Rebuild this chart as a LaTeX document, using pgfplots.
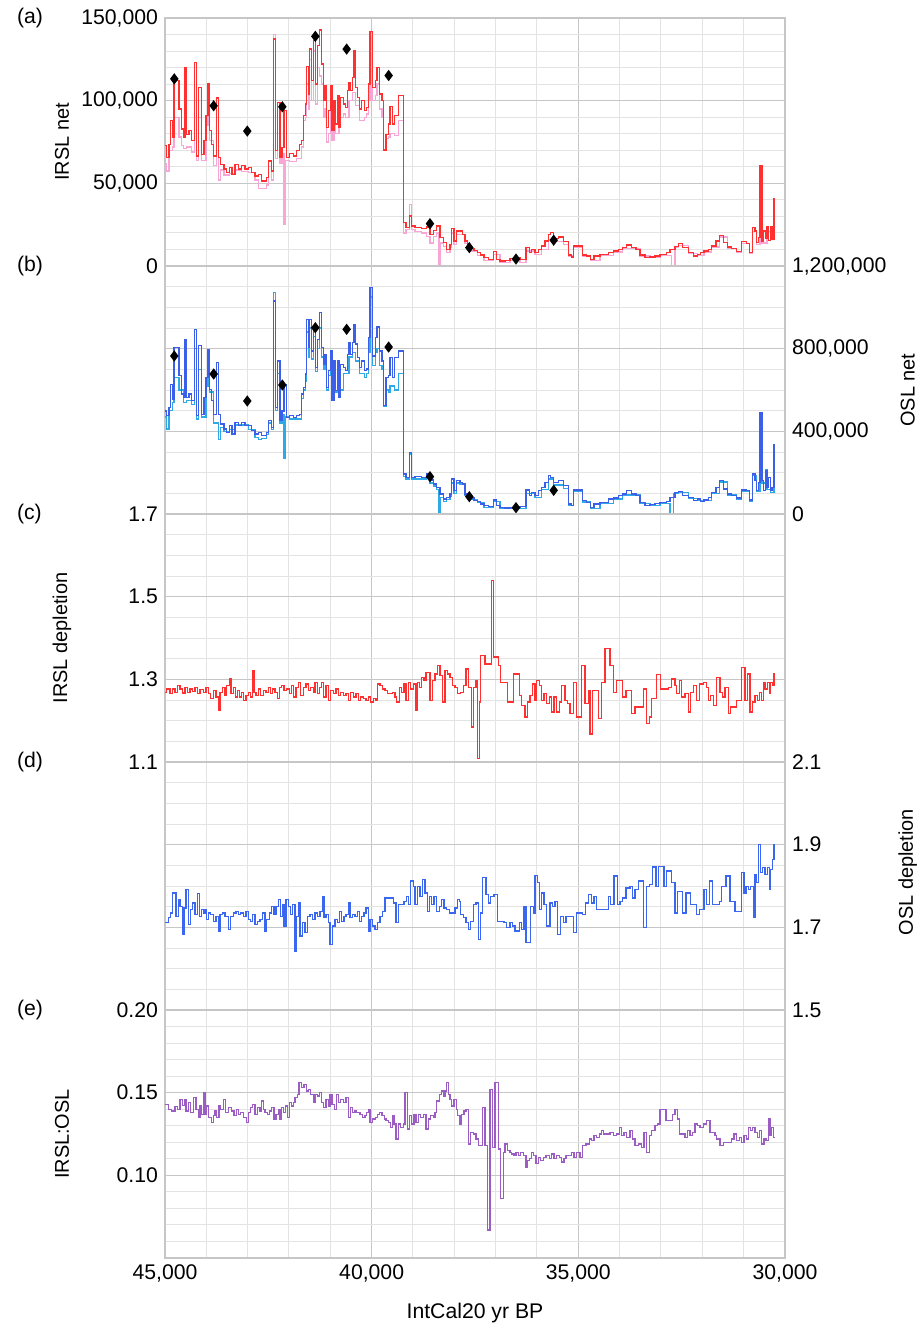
\documentclass[border=0pt]{standalone}
\usepackage{fontspec}
\setmainfont{Liberation Sans}
\usepackage{pgfplots}
\pgfplotsset{compat=1.18}
\definecolor{irsl}{HTML}{FF3030}
\definecolor{irslpk}{HTML}{F8A6D6}
\definecolor{osl}{HTML}{3B5FE8}
\definecolor{oslcy}{HTML}{2FA8E6}
\definecolor{odep}{HTML}{3A66F0}
\definecolor{ratio}{HTML}{9B5CC4}
\newcommand\lab{\fontsize{10.6bp}{12bp}\selectfont}
\pgfplotsset{
  panel/.style={
    scale only axis, width=310bp, height=124bp, anchor=south west,
    xmin=30000, xmax=45000, x dir=reverse,
    scaled x ticks=false, scaled y ticks=false,
    xtick={30000,35000,40000,45000}, minor x tick num=4, xticklabels={},
    grid=both,
    major grid style={draw=gray!45, line width=0.6bp},
    minor grid style={draw=gray!22, line width=0.5bp},
    axis line style={draw=gray!45, line width=0.6bp},
    major tick length=0pt, minor tick length=0pt,
    tick label style={font=\lab}, label style={font=\lab},
    /pgf/number format/assume math mode=true,
    every axis y label/.style={at={(axis description cs:-0.166,0.5)}, rotate=90, anchor=center},
    const plot,
    every axis plot/.append style={line width=0.65bp},
  },
  rightpanel/.style={yticklabel pos=right,
    every axis y label/.style={at={(axis description cs:1.198,0.5)}, rotate=90, anchor=center}},
}
\begin{document}
\begin{tikzpicture}
\path[use as bounding box] (0,0) rectangle (460bp,-664bp);
\node[anchor=west, font=\lab] at (5bp,-9bp) {(a)};
\node[anchor=west, font=\lab] at (5bp,-133bp) {(b)};
\node[anchor=west, font=\lab] at (5bp,-257bp) {(c)};
\node[anchor=west, font=\lab] at (5bp,-381bp) {(d)};
\node[anchor=west, font=\lab] at (5bp,-505bp) {(e)};

% (a) IRSL net
\begin{axis}[panel, at={(82.5bp,-133bp)},
  ymin=0, ymax=150000, ytick={0,50000,100000,150000}, minor y tick num=4,
  yticklabels={0,{50,000},{100,000},{150,000}}, ylabel={IRSL net}]
\addplot[irslpk] coordinates {(45000,62000)(44960,57500)(44903,69700)(44822,72000)(44782,89800)(44661,78000)(44597,73000)(44556,71000)(44476,72000)(44355,69000)(44290,100000)(44234,64000)(44185,90000)(44121,64000)(44008,85000)(43960,92000)(43927,76000)(43830,61000)(43750,90000)(43702,52000)(43653,58000)(43573,55000)(43444,56000)(43306,58000)(43145,57000)(42984,56500)(42823,52000)(42742,47000)(42661,47000)(42540,49000)(42492,60000)(42427,52000)(42379,140000)(42330,65000)(42282,80000)(42218,62000)(42169,68000)(42121,25000)(42080,64000)(41992,63000)(41814,65000)(41693,72000)(41653,88000)(41605,90000)(41580,110000)(41532,95000)(41500,125000)(41451,100000)(41411,130000)(41363,98000)(41314,120000)(41266,115000)(41210,110000)(41169,90000)(41129,95000)(41089,75000)(41040,80000)(41000,100000)(40960,76000)(40911,88000)(40871,80000)(40790,90000)(40685,92000)(40629,90000)(40548,100000)(40468,105000)(40387,97000)(40298,88000)(40177,90000)(40121,92000)(40080,100000)(40040,135000)(39975,100000)(39911,103000)(39870,110000)(39806,95000)(39750,90000)(39717,70000)(39653,77000)(39596,78000)(39556,80000)(39451,79000)(39354,88000)(39233,20000)(39169,22000)(39088,37000)(39032,22000)(38951,21000)(38790,20000)(38669,18000)(38588,14000)(38507,18000)(38427,20000)(38370,0)(38330,14000)(38265,12000)(38185,8000)(38104,11000)(38064,20000)(38008,13000)(37943,19000)(37741,13500)(37604,9000)(37443,6500)(37281,3500)(37056,7000)(36894,2000)(36652,3500)(36410,2000)(36265,9000)(36048,7000)(35886,10000)(35725,16000)(35604,15000)(35362,13000)(35241,6000)(35120,11000)(34894,6000)(34701,3500)(34475,6500)(34152,8500)(33926,10500)(33709,10500)(33507,6000)(33265,5000)(33023,6500)(32741,0)(32660,11000)(32580,12500)(32338,7500)(32120,6500)(31959,8500)(31773,11500)(31587,17500)(31394,10500)(31168,8000)(31047,13500)(30862,7500)(30781,21000)(30685,13000)(30604,55000)(30555,14000)(30434,21000)(30354,20000)(30265,38000)(30240,38000)};
\addplot[irsl] coordinates {(45000,72700)(44960,65600)(44903,73700)(44863,87800)(44822,77700)(44782,112000)(44661,94900)(44597,82800)(44556,77700)(44516,120100)(44476,79700)(44419,81800)(44355,75700)(44290,123200)(44234,66600)(44185,108000)(44121,67600)(44056,75700)(44008,90900)(43960,110000)(43927,81800)(43879,73700)(43830,66600)(43750,101600)(43702,65600)(43653,61600)(43573,58600)(43508,56500)(43444,59600)(43379,55500)(43306,61600)(43226,58600)(43145,60600)(43065,58600)(42984,59600)(42903,56500)(42823,54500)(42742,55500)(42661,51500)(42540,53500)(42492,63600)(42427,57500)(42379,137300)(42330,69700)(42282,98900)(42218,65600)(42169,71700)(42121,93900)(42056,65600)(41992,68000)(41895,66600)(41814,69700)(41750,73700)(41693,75700)(41653,90900)(41605,97900)(41580,120500)(41532,104000)(41500,131200)(41451,112100)(41411,136300)(41363,110000)(41314,133300)(41266,142700)(41210,122100)(41169,99900)(41129,109000)(41089,83800)(41040,93900)(41000,109000)(40960,81800)(40911,99900)(40871,85800)(40830,103000)(40790,83800)(40750,102000)(40685,97900)(40629,95900)(40589,106000)(40548,111000)(40508,106000)(40468,114100)(40428,130200)(40387,108000)(40347,102000)(40298,94900)(40242,99900)(40177,93900)(40121,95900)(40080,110000)(40040,141900)(39975,108000)(39911,112100)(39870,120100)(39806,104000)(39750,99900)(39717,70100)(39653,79700)(39596,85800)(39556,96300)(39500,85800)(39451,90900)(39354,103000)(39233,26200)(39169,23200)(39088,30300)(39032,24200)(38951,23200)(38790,22800)(38669,23600)(38588,19200)(38507,21600)(38427,24200)(38346,17200)(38265,14100)(38185,10100)(38104,13100)(38064,22800)(38008,15100)(37943,21200)(37798,19200)(37741,15100)(37685,12100)(37604,10700)(37523,9500)(37443,8100)(37362,6700)(37281,5000)(37177,4000)(37056,8700)(36975,4000)(36894,3000)(36773,3400)(36652,4600)(36532,5000)(36410,4000)(36265,11100)(36185,8100)(36128,10100)(36048,8100)(35967,10100)(35886,12100)(35806,15100)(35725,19200)(35668,20200)(35604,16800)(35483,17600)(35362,14700)(35241,6700)(35160,5500)(35120,12100)(34894,6700)(34798,6100)(34701,4000)(34620,6100)(34475,7100)(34273,8100)(34152,9100)(34031,10100)(33926,11100)(33830,12700)(33709,11100)(33604,10100)(33507,6700)(33386,5000)(33265,5500)(33144,6100)(33023,7100)(32862,8100)(32781,10100)(32660,11700)(32580,13500)(32475,11100)(32338,8100)(32217,6100)(32120,7100)(32039,8100)(31959,9100)(31854,10100)(31773,12100)(31668,15100)(31587,18600)(31491,14100)(31394,11500)(31289,10700)(31168,8700)(31047,14700)(30926,13500)(30862,8100)(30781,23200)(30725,21200)(30685,14100)(30644,17200)(30604,60600)(30555,15100)(30523,21200)(30475,16800)(30434,23600)(30394,15500)(30354,23600)(30313,16200)(30265,41000)(30240,41000)};
\addplot[only marks, mark=diamond*, mark size=2.3bp, black] coordinates {(44775,113200)(43822,96900)(43009,81600)(42161,96300)(41363,138900)(40605,131200)(39589,115200)(38589,25600)(37637,11100)(36508,4200)(35596,15600)};
\end{axis}

% (b) OSL net
\begin{axis}[panel, rightpanel, at={(82.5bp,-257bp)},
  ymin=0, ymax=1200000, ytick={0,400000,800000,1200000}, minor y tick num=3,
  yticklabels={0,{400,000},{800,000},{1,200,000}}, ylabel={OSL net}]
\addplot[oslcy] coordinates {(45000,470000)(44960,411000)(44903,500000)(44822,540000)(44782,660000)(44661,600000)(44556,540000)(44476,550000)(44355,530000)(44290,800000)(44234,460000)(44185,700000)(44121,470000)(44008,620000)(43960,720000)(43927,590000)(43830,440000)(43702,360000)(43653,420000)(43573,400000)(43444,410000)(43306,430000)(43145,430000)(42984,410000)(42823,370000)(42742,360000)(42661,365000)(42540,385000)(42492,440000)(42427,410000)(42379,1071000)(42330,500000)(42282,680000)(42218,440000)(42169,480000)(42121,270000)(42080,470000)(41992,460000)(41814,460000)(41693,560000)(41653,600000)(41605,640000)(41580,880000)(41532,760000)(41500,900000)(41451,750000)(41411,860000)(41363,690000)(41314,800000)(41266,900000)(41210,760000)(41169,700000)(41129,740000)(41089,600000)(41040,670000)(41000,760000)(40960,560000)(40911,700000)(40871,590000)(40790,600000)(40685,680000)(40548,760000)(40468,780000)(40387,740000)(40298,680000)(40177,660000)(40121,680000)(40080,780000)(40040,1050000)(39975,720000)(39911,780000)(39870,800000)(39806,720000)(39750,700000)(39717,520000)(39653,600000)(39596,590000)(39556,620000)(39451,600000)(39354,680000)(39233,180000)(39169,170000)(39088,290000)(39032,170000)(38951,170000)(38790,170000)(38669,180000)(38588,150000)(38507,135000)(38427,120000)(38370,0)(38330,80000)(38265,60000)(38185,70000)(38104,85000)(38064,150000)(38008,100000)(37943,150000)(37862,145000)(37741,88000)(37604,70000)(37443,55000)(37281,33000)(37056,60000)(36894,25000)(36652,25000)(36410,28000)(36265,100000)(36048,80000)(35886,120000)(35725,170000)(35604,140000)(35362,125000)(35241,42000)(35120,110000)(34894,58000)(34701,28000)(34475,52000)(34152,72000)(33926,92000)(33709,92000)(33507,52000)(33265,40000)(33023,52000)(32781,0)(32700,100000)(32580,105000)(32338,76000)(32120,66000)(31959,64000)(31773,100000)(31587,155000)(31394,92000)(31168,72000)(31047,110000)(30862,62000)(30781,185000)(30685,108000)(30604,480000)(30555,150000)(30475,217000)(30434,120000)(30354,105000)(30265,310000)(30240,310000)};
\addplot[osl] coordinates {(45000,499000)(44960,475000)(44903,516000)(44863,628000)(44822,556000)(44782,806000)(44661,669000)(44597,580000)(44556,564000)(44516,846000)(44476,564000)(44419,580000)(44355,548000)(44290,894000)(44234,475000)(44185,814000)(44121,483000)(44056,564000)(44008,661000)(43960,797000)(43927,604000)(43879,548000)(43830,483000)(43750,733000)(43702,483000)(43653,435000)(43573,411000)(43508,395000)(43444,427000)(43379,387000)(43306,443000)(43226,427000)(43145,443000)(43065,427000)(42984,427000)(42903,403000)(42823,387000)(42742,395000)(42661,379000)(42540,395000)(42492,451000)(42427,419000)(42379,1031000)(42330,516000)(42282,741000)(42218,451000)(42169,499000)(42121,628000)(42056,467000)(41992,475000)(41895,467000)(41814,475000)(41750,483000)(41693,580000)(41653,612000)(41605,677000)(41580,942000)(41532,806000)(41500,942000)(41451,789000)(41411,902000)(41363,709000)(41314,846000)(41266,975000)(41210,806000)(41169,725000)(41129,773000)(41089,612000)(41040,693000)(41000,789000)(40960,548000)(40911,741000)(40871,596000)(40830,741000)(40790,564000)(40750,725000)(40685,709000)(40629,693000)(40589,773000)(40548,830000)(40508,773000)(40468,830000)(40428,918000)(40387,822000)(40347,757000)(40298,709000)(40242,741000)(40177,693000)(40121,701000)(40080,854000)(40040,1095000)(39975,765000)(39911,854000)(39870,905000)(39806,789000)(39750,741000)(39717,524000)(39653,661000)(39596,669000)(39556,757000)(39500,661000)(39451,757000)(39354,789000)(39233,193000)(39169,177000)(39088,298000)(39032,177000)(38951,180000)(38790,177000)(38669,193000)(38588,164000)(38507,145000)(38427,129000)(38346,97000)(38265,72000)(38185,81000)(38104,97000)(38064,169000)(38008,113000)(37943,161000)(37862,153000)(37798,145000)(37741,97000)(37685,81000)(37604,77000)(37523,64000)(37443,61000)(37362,48000)(37281,40000)(37177,35000)(37056,68000)(36975,40000)(36894,32000)(36773,29000)(36652,32000)(36410,35000)(36265,116000)(36185,89000)(36128,105000)(36048,89000)(35967,113000)(35886,129000)(35806,153000)(35725,185000)(35668,177000)(35604,153000)(35483,161000)(35362,137000)(35241,48000)(35160,40000)(35120,116000)(34894,64000)(34798,56000)(34701,32000)(34620,48000)(34475,56000)(34273,72000)(34152,77000)(34031,89000)(33926,97000)(33830,113000)(33709,97000)(33604,89000)(33507,56000)(33386,40000)(33265,45000)(33144,52000)(33023,56000)(32862,61000)(32781,81000)(32660,105000)(32580,110000)(32475,89000)(32338,81000)(32217,64000)(32120,72000)(32039,61000)(31959,68000)(31854,81000)(31773,105000)(31668,129000)(31587,161000)(31491,121000)(31394,97000)(31289,89000)(31168,77000)(31047,116000)(30926,113000)(30862,68000)(30781,193000)(30725,161000)(30685,113000)(30644,153000)(30604,491000)(30555,161000)(30523,113000)(30475,209000)(30434,129000)(30394,177000)(30354,113000)(30313,129000)(30265,338000)(30240,338000)};
\addplot[only marks, mark=diamond*, mark size=2.3bp, black] coordinates {(44775,764500)(43822,677400)(43009,546800)(42161,624200)(41363,901600)(40605,893500)(39589,808000)(38589,180600)(37637,83900)(36508,30600)(35596,114500)};
\end{axis}

% (c) IRSL depletion
\begin{axis}[panel, at={(82.5bp,-381bp)},
  ymin=1.1, ymax=1.7, ytick={1.1,1.3,1.5,1.7}, minor y tick num=3,
  yticklabels={1.1,1.3,1.5,1.7}, ylabel={IRSL depletion}]
\addplot[irsl] coordinates {(45000,1.269)(44960,1.277)(44879,1.265)(44815,1.277)(44758,1.269)(44702,1.285)(44637,1.277)(44573,1.267)(44516,1.281)(44460,1.269)(44395,1.277)(44331,1.271)(44274,1.281)(44218,1.265)(44153,1.275)(44073,1.269)(44008,1.281)(43952,1.265)(43895,1.253)(43831,1.273)(43766,1.257)(43710,1.225)(43669,1.269)(43605,1.281)(43548,1.261)(43508,1.285)(43444,1.301)(43403,1.265)(43347,1.281)(43290,1.257)(43250,1.273)(43202,1.257)(43145,1.269)(43105,1.249)(43040,1.261)(42984,1.269)(42927,1.257)(42879,1.321)(42847,1.269)(42798,1.261)(42742,1.277)(42685,1.261)(42621,1.273)(42556,1.269)(42500,1.281)(42443,1.265)(42395,1.277)(42338,1.269)(42282,1.253)(42234,1.281)(42177,1.285)(42121,1.273)(42056,1.277)(41992,1.265)(41935,1.285)(41895,1.257)(41831,1.281)(41774,1.293)(41717,1.261)(41653,1.281)(41588,1.289)(41532,1.273)(41476,1.281)(41411,1.269)(41371,1.293)(41314,1.265)(41266,1.281)(41210,1.293)(41169,1.257)(41105,1.285)(41048,1.249)(40992,1.273)(40927,1.265)(40863,1.277)(40806,1.261)(40750,1.269)(40685,1.261)(40621,1.265)(40564,1.249)(40508,1.269)(40444,1.257)(40379,1.265)(40323,1.249)(40266,1.257)(40202,1.253)(40137,1.249)(40080,1.257)(40024,1.245)(39960,1.253)(39895,1.249)(39855,1.289)(39798,1.285)(39734,1.277)(39677,1.273)(39621,1.265)(39492,1.269)(39435,1.257)(39395,1.245)(39330,1.281)(39274,1.269)(39217,1.289)(39169,1.249)(39113,1.293)(39056,1.277)(38991,1.289)(38927,1.225)(38895,1.293)(38847,1.281)(38790,1.305)(38734,1.297)(38685,1.317)(38588,1.249)(38524,1.297)(38467,1.313)(38411,1.333)(38346,1.309)(38282,1.245)(38226,1.321)(38169,1.313)(38104,1.305)(38040,1.285)(37983,1.281)(37927,1.265)(37846,1.269)(37781,1.285)(37717,1.325)(37660,1.281)(37580,1.185)(37540,1.281)(37475,1.297)(37443,1.108)(37394,1.245)(37362,1.358)(37257,1.337)(37096,1.540)(37056,1.354)(36935,1.333)(36878,1.293)(36717,1.245)(36572,1.313)(36427,1.261)(36370,1.237)(36289,1.209)(36233,1.245)(36169,1.261)(36104,1.289)(36048,1.249)(36007,1.297)(35943,1.285)(35886,1.249)(35830,1.265)(35765,1.241)(35701,1.257)(35644,1.221)(35588,1.257)(35523,1.221)(35459,1.245)(35402,1.285)(35322,1.249)(35265,1.241)(35201,1.217)(35120,1.293)(35039,1.209)(34918,1.333)(34838,1.241)(34757,1.273)(34717,1.168)(34652,1.273)(34515,1.205)(34434,1.293)(34354,1.374)(34233,1.333)(34152,1.269)(34072,1.297)(33926,1.257)(33846,1.273)(33709,1.217)(33628,1.233)(33426,1.277)(33346,1.193)(33281,1.209)(33225,1.253)(33104,1.312)(33007,1.277)(32822,1.281)(32741,1.301)(32660,1.285)(32620,1.265)(32555,1.297)(32499,1.257)(32418,1.265)(32338,1.221)(32281,1.269)(32217,1.285)(32136,1.249)(32071,1.289)(31975,1.293)(31894,1.281)(31854,1.249)(31797,1.261)(31733,1.237)(31652,1.305)(31571,1.269)(31507,1.257)(31450,1.281)(31370,1.217)(31313,1.233)(31168,1.249)(31047,1.329)(30967,1.249)(30910,1.313)(30846,1.221)(30781,1.245)(30725,1.261)(30668,1.249)(30620,1.269)(30563,1.249)(30523,1.293)(30483,1.277)(30426,1.293)(30378,1.265)(30346,1.293)(30297,1.285)(30265,1.313)(30240,1.313)};
\end{axis}

% (d) OSL depletion
\begin{axis}[panel, rightpanel, at={(82.5bp,-505bp)},
  ymin=1.5, ymax=2.1, ytick={1.5,1.7,1.9,2.1}, minor y tick num=3,
  yticklabels={1.5,1.7,1.9,2.1}, ylabel={OSL depletion},
  every axis y label/.style={at={(axis description cs:1.198,0.556)}, rotate=90, anchor=center}]
\addplot[odep] coordinates {(45000,1.711)(44919,1.723)(44863,1.735)(44815,1.783)(44734,1.727)(44677,1.767)(44637,1.751)(44573,1.683)(44540,1.747)(44492,1.791)(44435,1.707)(44379,1.743)(44331,1.759)(44274,1.731)(44218,1.782)(44169,1.727)(44113,1.743)(44073,1.735)(44032,1.743)(43992,1.719)(43952,1.735)(43895,1.731)(43831,1.715)(43766,1.727)(43710,1.691)(43669,1.731)(43605,1.735)(43548,1.727)(43468,1.695)(43411,1.727)(43347,1.735)(43282,1.739)(43226,1.731)(43169,1.735)(43105,1.727)(43040,1.739)(42984,1.719)(42927,1.715)(42879,1.731)(42823,1.707)(42766,1.715)(42701,1.719)(42637,1.735)(42580,1.691)(42540,1.719)(42475,1.735)(42419,1.751)(42363,1.731)(42314,1.751)(42258,1.767)(42201,1.727)(42153,1.755)(42121,1.703)(42073,1.767)(42016,1.751)(41960,1.731)(41911,1.755)(41855,1.642)(41814,1.727)(41774,1.759)(41734,1.679)(41669,1.711)(41613,1.687)(41556,1.727)(41492,1.731)(41435,1.719)(41371,1.735)(41314,1.727)(41250,1.739)(41194,1.775)(41153,1.723)(41105,1.731)(41048,1.711)(41008,1.659)(40943,1.703)(40887,1.719)(40830,1.711)(40782,1.739)(40725,1.715)(40669,1.727)(40621,1.731)(40564,1.759)(40524,1.723)(40460,1.731)(40403,1.727)(40347,1.739)(40298,1.715)(40242,1.727)(40185,1.735)(40137,1.747)(40080,1.691)(40040,1.719)(39975,1.703)(39919,1.695)(39862,1.711)(39798,1.727)(39734,1.739)(39677,1.771)(39476,1.759)(39411,1.711)(39354,1.755)(39217,1.763)(39153,1.775)(39113,1.755)(39056,1.812)(38991,1.799)(38951,1.755)(38895,1.799)(38830,1.775)(38766,1.816)(38709,1.783)(38653,1.739)(38604,1.775)(38548,1.755)(38492,1.775)(38427,1.739)(38362,1.751)(38306,1.767)(38250,1.747)(38185,1.743)(38121,1.735)(37983,1.747)(37927,1.767)(37878,1.763)(37846,1.731)(37781,1.723)(37717,1.711)(37660,1.695)(37604,1.715)(37540,1.755)(37475,1.759)(37419,1.671)(37362,1.735)(37314,1.820)(37233,1.779)(37177,1.759)(37120,1.775)(37040,1.779)(36959,1.715)(36798,1.711)(36733,1.699)(36652,1.711)(36588,1.703)(36532,1.691)(36427,1.711)(36370,1.695)(36314,1.751)(36265,1.663)(36152,1.751)(36088,1.735)(36048,1.825)(35991,1.808)(35943,1.743)(35886,1.783)(35830,1.755)(35765,1.703)(35685,1.759)(35620,1.751)(35564,1.763)(35507,1.683)(35426,1.727)(35362,1.711)(35297,1.727)(35120,1.687)(35039,1.735)(34894,1.731)(34830,1.759)(34757,1.779)(34676,1.759)(34620,1.775)(34555,1.743)(34273,1.775)(34217,1.755)(34136,1.824)(34055,1.755)(33991,1.763)(33926,1.771)(33846,1.795)(33749,1.799)(33684,1.771)(33628,1.791)(33547,1.812)(33426,1.699)(33346,1.799)(33281,1.803)(33201,1.846)(33120,1.799)(33063,1.848)(32926,1.799)(32862,1.836)(32741,1.808)(32660,1.735)(32604,1.787)(32475,1.735)(32394,1.783)(32281,1.755)(32136,1.731)(32071,1.743)(31959,1.791)(31894,1.755)(31830,1.812)(31749,1.755)(31588,1.763)(31531,1.799)(31426,1.824)(31329,1.763)(31209,1.739)(31047,1.832)(30991,1.783)(30942,1.799)(30886,1.791)(30829,1.799)(30765,1.723)(30725,1.828)(30685,1.808)(30644,1.900)(30588,1.832)(30539,1.844)(30483,1.828)(30426,1.844)(30378,1.791)(30346,1.840)(30297,1.864)(30265,1.900)(30240,1.900)};
\end{axis}

% (e) IRSL:OSL
\begin{axis}[panel, at={(82.5bp,-629bp)},
  ymin=0.05, ymax=0.2, ytick={0.05,0.1,0.15,0.2}, minor y tick num=4,
  yticklabels={,0.10,0.15,0.20}, ylabel={IRSL:OSL},
  xticklabels={{30,000},{35,000},{40,000},{45,000}},
  xlabel={IntCal20 yr BP},
  xlabel style={at={(axis description cs:0.5,-0.222)}, anchor=center}]
\addplot[ratio] coordinates {(45000,0.143)(44919,0.140)(44839,0.139)(44758,0.1415)(44702,0.140)(44637,0.146)(44573,0.1423)(44532,0.146)(44492,0.139)(44435,0.144)(44379,0.138)(44315,0.147)(44250,0.140)(44194,0.135)(44153,0.142)(44113,0.137)(44073,0.150)(44032,0.137)(43992,0.142)(43952,0.135)(43871,0.132)(43831,0.136)(43790,0.139)(43750,0.135)(43693,0.142)(43653,0.140)(43589,0.146)(43532,0.138)(43468,0.141)(43387,0.139)(43331,0.136)(43266,0.140)(43226,0.137)(43169,0.138)(43105,0.135)(43024,0.132)(42984,0.138)(42927,0.141)(42879,0.143)(42823,0.137)(42766,0.141)(42701,0.139)(42661,0.145)(42621,0.140)(42580,0.138)(42524,0.137)(42475,0.139)(42419,0.141)(42363,0.134)(42314,0.137)(42258,0.140)(42218,0.134)(42177,0.141)(42137,0.138)(42089,0.142)(42040,0.135)(41992,0.144)(41943,0.142)(41895,0.144)(41855,0.147)(41798,0.149)(41758,0.156)(41693,0.153)(41637,0.155)(41572,0.151)(41532,0.152)(41476,0.149)(41411,0.144)(41371,0.149)(41314,0.148)(41266,0.150)(41210,0.144)(41169,0.141)(41105,0.146)(41048,0.142)(41008,0.149)(40960,0.143)(40903,0.140)(40847,0.149)(40806,0.144)(40750,0.146)(40685,0.144)(40621,0.147)(40564,0.135)(40508,0.141)(40460,0.138)(40403,0.139)(40363,0.138)(40282,0.137)(40218,0.135)(40161,0.136)(40121,0.138)(40080,0.140)(40040,0.132)(39975,0.134)(39911,0.135)(39862,0.137)(39814,0.138)(39750,0.136)(39693,0.134)(39653,0.133)(39596,0.132)(39540,0.129)(39500,0.136)(39459,0.131)(39411,0.122)(39354,0.131)(39298,0.129)(39233,0.131)(39193,0.150)(39137,0.128)(39088,0.136)(39032,0.131)(38975,0.137)(38927,0.132)(38871,0.137)(38814,0.135)(38750,0.137)(38685,0.128)(38629,0.134)(38572,0.136)(38508,0.135)(38467,0.138)(38427,0.145)(38362,0.149)(38306,0.151)(38265,0.148)(38226,0.151)(38185,0.156)(38145,0.149)(38104,0.146)(38064,0.142)(38008,0.146)(37943,0.140)(37927,0.136)(37862,0.131)(37822,0.137)(37765,0.139)(37717,0.140)(37660,0.119)(37604,0.126)(37540,0.125)(37475,0.122)(37419,0.118)(37314,0.141)(37257,0.118)(37201,0.067)(37136,0.152)(37072,0.117)(37015,0.156)(36935,0.116)(36878,0.086)(36814,0.114)(36773,0.119)(36717,0.115)(36652,0.114)(36612,0.113)(36556,0.112)(36507,0.114)(36451,0.112)(36394,0.114)(36330,0.112)(36265,0.105)(36233,0.109)(36185,0.110)(36128,0.114)(36088,0.112)(36023,0.107)(35967,0.111)(35911,0.109)(35846,0.111)(35781,0.112)(35701,0.110)(35644,0.113)(35588,0.110)(35523,0.112)(35459,0.111)(35402,0.108)(35346,0.110)(35297,0.112)(35160,0.114)(35104,0.111)(35039,0.114)(34959,0.111)(34894,0.118)(34814,0.119)(34733,0.122)(34676,0.121)(34620,0.124)(34555,0.123)(34491,0.125)(34434,0.127)(34394,0.125)(34233,0.126)(34152,0.124)(34072,0.125)(34007,0.129)(33951,0.124)(33894,0.126)(33830,0.123)(33749,0.127)(33684,0.122)(33628,0.118)(33547,0.119)(33467,0.117)(33410,0.126)(33346,0.114)(33281,0.124)(33225,0.127)(33144,0.130)(33087,0.131)(33023,0.140)(32878,0.133)(32717,0.137)(32660,0.140)(32604,0.134)(32555,0.125)(32418,0.123)(32362,0.127)(32297,0.124)(32233,0.126)(32176,0.131)(32120,0.130)(32055,0.129)(31975,0.131)(31894,0.133)(31813,0.126)(31692,0.124)(31652,0.122)(31571,0.118)(31491,0.120)(31289,0.122)(31233,0.125)(31168,0.121)(31104,0.123)(31047,0.120)(30991,0.124)(30926,0.122)(30886,0.129)(30829,0.127)(30781,0.129)(30725,0.126)(30668,0.123)(30620,0.127)(30563,0.119)(30507,0.122)(30458,0.121)(30402,0.134)(30362,0.124)(30321,0.129)(30281,0.123)(30240,0.123)};
\end{axis}
\end{tikzpicture}
\end{document}
